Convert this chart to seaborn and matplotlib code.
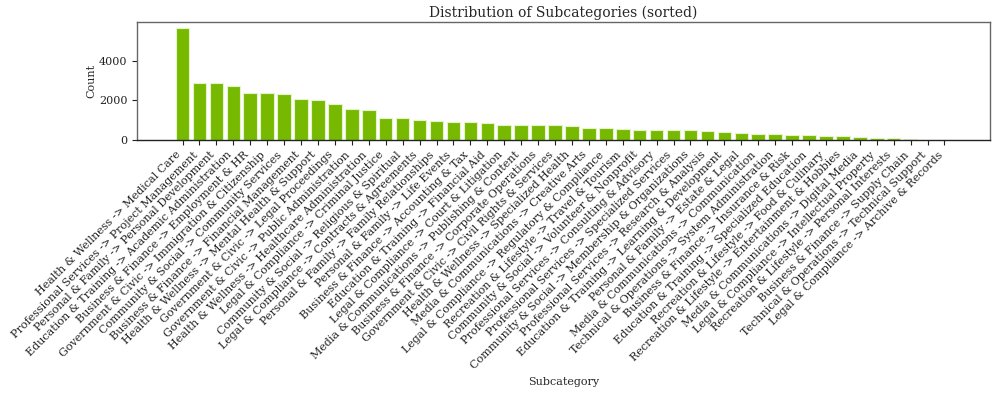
import matplotlib
matplotlib.use("Agg")
import matplotlib.pyplot as plt
import seaborn as sns
import pandas as pd

subcategories = [
    "Health & Wellness -> Medical Care",
    "Professional Services -> Project Management",
    "Personal & Family -> Personal Development",
    "Education & Training -> Academic Administration",
    "Business & Finance -> Employment & HR",
    "Government & Civic -> Immigration & Citizenship",
    "Community & Social -> Community Services",
    "Business & Finance -> Financial Management",
    "Health & Wellness -> Mental Health & Support",
    "Government & Civic -> Legal Proceedings",
    "Government & Civic -> Public Administration",
    "Health & Wellness -> Healthcare Administration",
    "Legal & Compliance -> Criminal Justice",
    "Community & Social -> Religious & Spiritual",
    "Legal & Compliance -> Contracts & Agreements",
    "Personal & Family -> Family Relationships",
    "Personal & Family -> Life Events",
    "Business & Finance -> Accounting & Tax",
    "Education & Training -> Financial Aid",
    "Legal & Compliance -> Court & Litigation",
    "Media & Communications -> Publishing & Content",
    "Business & Finance -> Corporate Operations",
    "Government & Civic -> Civil Rights & Services",
    "Health & Wellness -> Specialized Health",
    "Media & Communications -> Creative Arts",
    "Legal & Compliance -> Regulatory & Compliance",
    "Recreation & Lifestyle -> Travel & Tourism",
    "Community & Social -> Volunteer & Nonprofit",
    "Professional Services -> Consulting & Advisory",
    "Professional Services -> Specialized Services",
    "Community & Social -> Membership & Organizations",
    "Professional Services -> Research & Analysis",
    "Education & Training -> Learning & Development",
    "Personal & Family -> Estate & Legal",
    "Media & Communications -> Communication",
    "Technical & Operations -> System Administration",
    "Business & Finance -> Insurance & Risk",
    "Education & Training -> Specialized Education",
    "Recreation & Lifestyle -> Food & Culinary",
    "Recreation & Lifestyle -> Entertainment & Hobbies",
    "Media & Communications -> Digital Media",
    "Legal & Compliance -> Intellectual Property",
    "Recreation & Lifestyle -> Personal Interests",
    "Business & Finance -> Supply Chain",
    "Technical & Operations -> Technical Support",
    "Legal & Compliance -> Archive & Records",
]

counts = [
    5670, 2885, 2875, 2700, 2350, 2350, 2320, 2080, 1998, 1814,
    1545, 1515, 1124, 1090, 1008, 937, 922, 887, 872, 765,
    765, 735, 735, 720, 610, 610, 560, 519, 504, 484,
    476, 460, 395, 368, 318, 282, 267, 252, 217, 202,
    160, 116, 101, 66, 15, 3,
]

df = pd.DataFrame({"Subcategory": subcategories, "Count": counts})

sns.set_theme(style="ticks")
plt.rcParams["font.family"] = ["DejaVu Serif"]

fig = plt.figure(figsize=(9.97, 3.94), dpi=100)
ax = fig.add_axes([0.1374, 0.645, 0.8556, 0.299])

sns.barplot(data=df, x="Subcategory", y="Count", color="#76b900",
            saturation=1, edgecolor="#e4f3c8", linewidth=0.8, width=0.8, ax=ax)

n = len(subcategories)
m = 0.05 * (n - 1 + 0.8)
ax.set_xlim(-0.4 - m, n - 1 + 0.4 + m)
ax.set_ylim(0, 5670 * 1.05)
ax.set_yticks([0, 2000, 4000])

ax.set_xticks(range(n))
ax.set_xticklabels(subcategories, rotation=45, ha="right",
                   rotation_mode="default", fontsize=8)
ax.tick_params(axis="y", labelsize=8, length=3.5, width=0.8, colors="#222222")
ax.tick_params(axis="x", length=3.5, width=0.8, colors="#222222")

for side in ["top", "right", "left"]:
    ax.spines[side].set_color("#666666")
    ax.spines[side].set_linewidth(1.0)
ax.spines["bottom"].set_color("#222222")
ax.spines["bottom"].set_linewidth(1.0)

ax.set_title("Distribution of Subcategories (sorted)", fontsize=10, pad=4)
ax.set_xlabel("Subcategory", fontsize=8)
ax.set_ylabel("Count", fontsize=8, labelpad=2)

fig.savefig("out.png", dpi=100)
